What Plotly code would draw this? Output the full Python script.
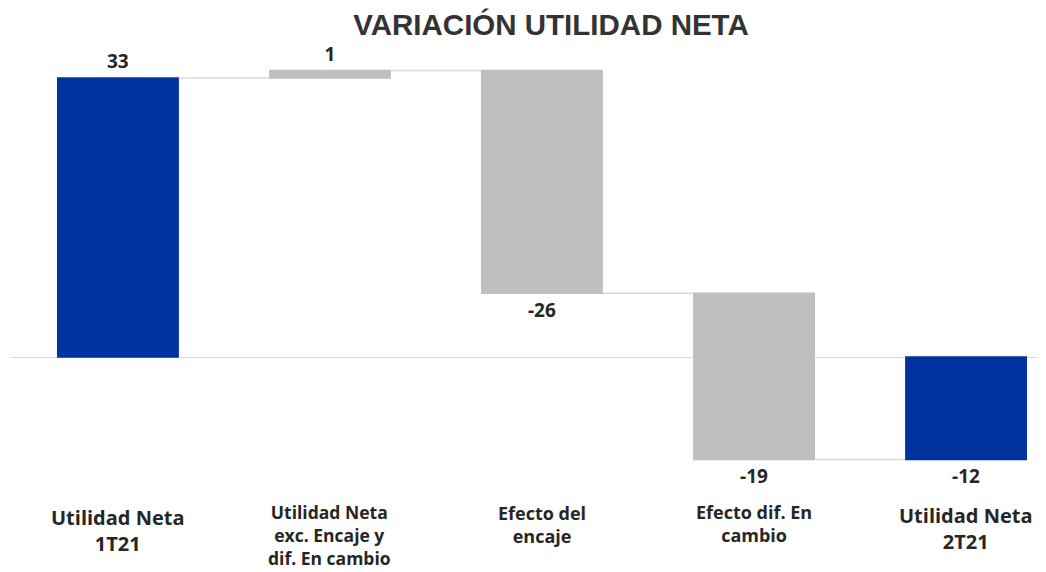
import plotly.graph_objects as go

categories = ["Utilidad Neta<br>1T21", "Utilidad Neta<br>exc. Encaje y<br>dif. En cambio",
              "Efecto del<br>encaje", "Efecto dif. En<br>cambio", "Utilidad Neta<br>2T21"]
measures = ["absolute", "relative", "relative", "relative", "total"]
values = [33.2, 0.9, -26.5, -19.8, 0]
value_labels = ["33", "1", "-26", "-19", "-12"]
label_sizes = [20, 17.5, 18, 18, 20]
label_y_px = [530, 535, 524, 523, 528]

BLUE = "#0033A0"
GRAY = "#BFBFBF"
OFF = 8  # page body margin

x_idx = list(range(len(categories)))

fig = go.Figure(go.Waterfall(
    x=x_idx,
    measure=measures,
    y=values,
    text=value_labels,
    textposition="outside",
    textfont=dict(family="Open Sans", size=19, color="#262626", weight="bold"),
    width=0.575,
    increasing=dict(marker=dict(color=GRAY)),
    decreasing=dict(marker=dict(color=GRAY)),
    totals=dict(marker=dict(color=BLUE)),
    connector=dict(line=dict(color="#D9D9D9", width=1.5)),
    cliponaxis=False,
    hoverinfo="skip",
))

top_px, bot_px = 40, 480          # desired page pixels
zero_px = 357
scale = 279 / 33.2
y_top = (zero_px - top_px) / scale
y_bot = -(bot_px - zero_px) / scale

annotations = []
for i, (cat, sz, ypx) in enumerate(zip(categories, label_sizes, label_y_px)):
    annotations.append(dict(
        x=i, xref="x", y=(bot_px - ypx) / (bot_px - top_px), yref="paper",
        text=cat, showarrow=False, xanchor="center", yanchor="middle",
        font=dict(family="Open Sans", size=sz, color="#262626", weight="bold"),
        align="center",
    ))

fig.update_layout(
    width=1046, height=572,
    margin=dict(l=10 - OFF, r=OFF, t=top_px - OFF, b=572 - bot_px + OFF),
    paper_bgcolor="white", plot_bgcolor="white",
    showlegend=False,
    title=dict(text="VARIACIÓN UTILIDAD NETA", x=(551 - OFF) / 1046, xanchor="center",
               y=1 - (25 - OFF) / 572, yanchor="middle",
               font=dict(family="Liberation Sans", size=29.5, color="#333333", weight="bold")),
    xaxis=dict(range=[-0.509, 4.377], showticklabels=False, showgrid=False,
               zeroline=False, showline=False, ticks=""),
    yaxis=dict(range=[y_bot, y_top], showticklabels=False, showgrid=False,
               zeroline=True, zerolinecolor="#D9D9D9", zerolinewidth=1,
               showline=False, ticks=""),
    annotations=annotations,
)

fig.write_html("out.html")
